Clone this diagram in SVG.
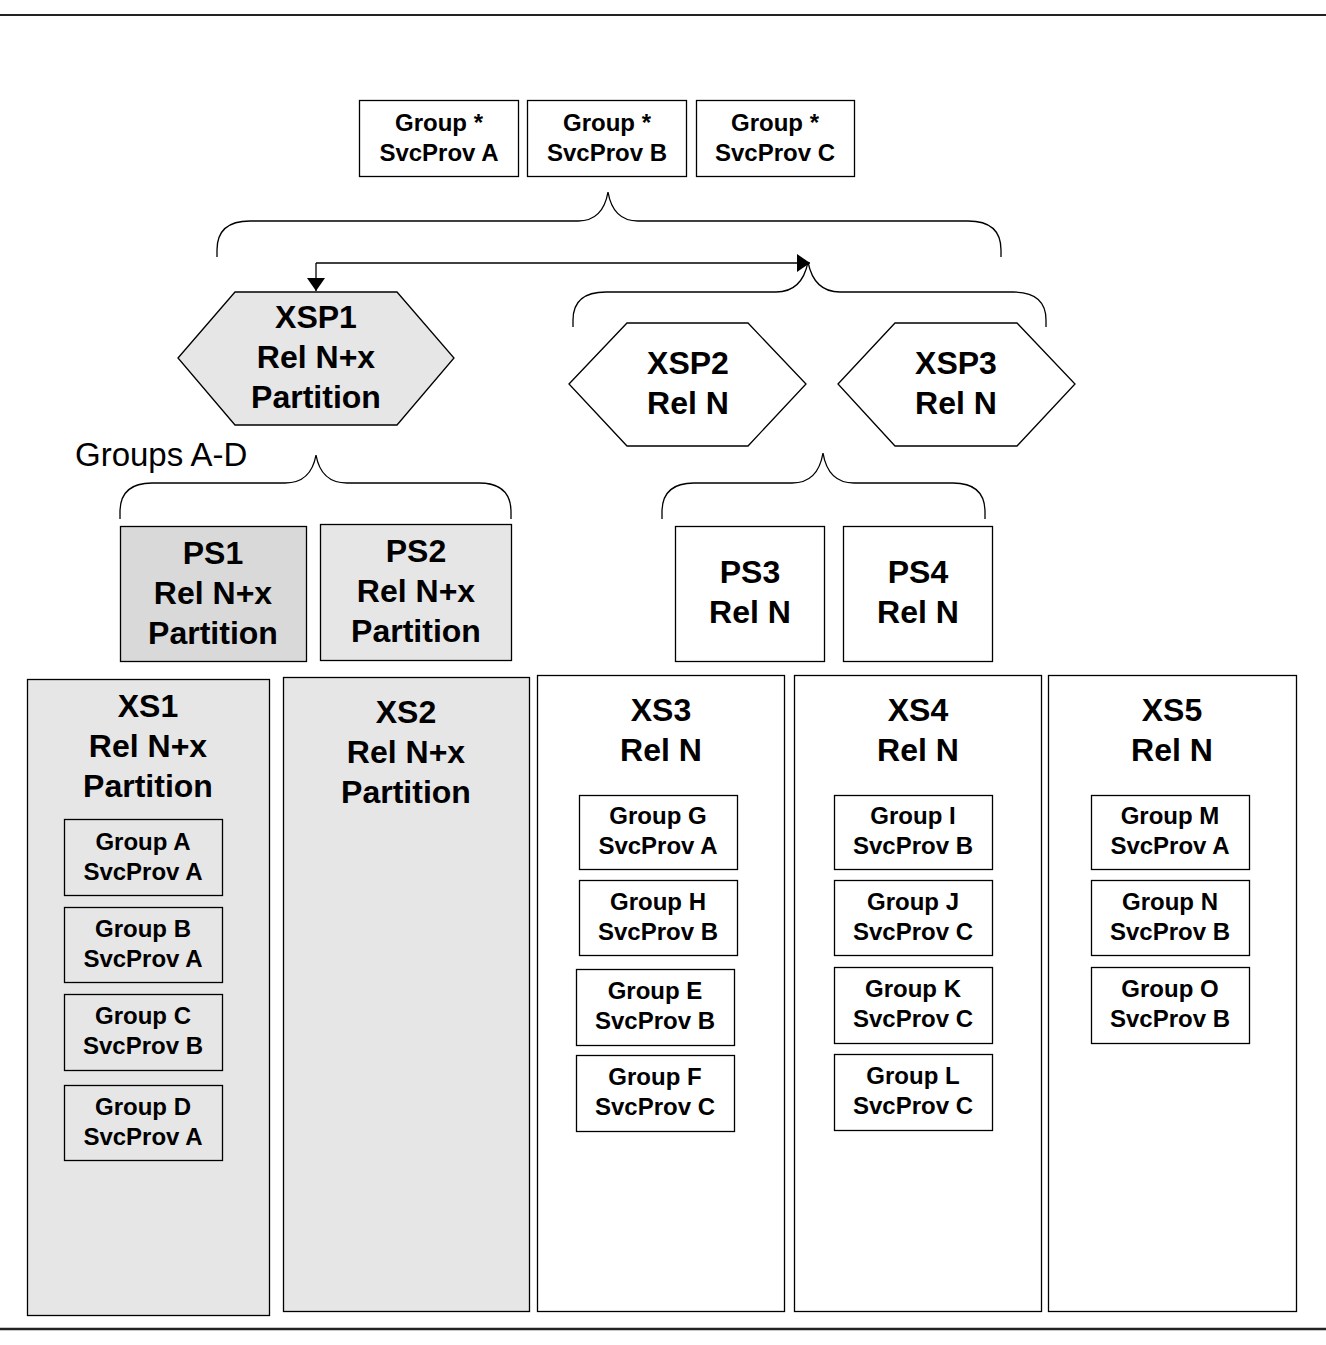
<svg xmlns="http://www.w3.org/2000/svg" width="1326" height="1345" viewBox="0 0 1326 1345">
  <style>
    .box { stroke: #000; stroke-width: 1.3; }
    .white { fill: #fff; }
    .grey { fill: #e6e6e6; }
    .dark { fill: #d9d9d9; }
    .brace { fill: none; stroke: #000; stroke-width: 1.3; }
    .t { font-family: "Liberation Sans", Arial, sans-serif; font-weight: bold; fill: #000; text-anchor: middle; }
    .s { font-size: 24px; }
    .l { font-size: 32px; }
    .lbl { font-family: "Liberation Sans", Arial, sans-serif; font-size: 33px; fill: #000; }
  </style>
  <defs>
    <marker id="tri" viewBox="0 0 13 18" refX="13" refY="9" markerWidth="13" markerHeight="18" markerUnits="userSpaceOnUse" orient="auto">
      <path d="M0,0 L13,9 L0,18 Z" fill="#000"/>
    </marker>
  </defs>

  <rect width="1326" height="1345" fill="#fff"/>

  <!-- page rules -->
  <line x1="0" y1="15" x2="1326" y2="15" stroke="#222" stroke-width="2"/>
  <line x1="0" y1="1329" x2="1326" y2="1329" stroke="#222" stroke-width="2.5"/>

  <!-- top group boxes -->
  <g id="top-a">
    <rect class="box white" x="359.500" y="100.500" width="159" height="76"/>
    <text class="t s" x="439" y="131">Group *</text>
    <text class="t s" x="439" y="161">SvcProv A</text>
  </g>
  <g id="top-b">
    <rect class="box white" x="527.500" y="100.500" width="159" height="76"/>
    <text class="t s" x="607" y="131">Group *</text>
    <text class="t s" x="607" y="161">SvcProv B</text>
  </g>
  <g id="top-c">
    <rect class="box white" x="696.500" y="100.500" width="158" height="76"/>
    <text class="t s" x="775" y="131">Group *</text>
    <text class="t s" x="775" y="161">SvcProv C</text>
  </g>

  <!-- connectors: braces and arrow -->
  <g id="connectors">
    <path class="brace" d="M217,257 V250 Q217,221 250,221 H578 Q603,221 608,192 Q613,221 638,221 H968 Q1001,221 1001,250 V257"/>
    <path class="brace" d="M573,327 V320 Q573,292 606,292 H776 Q802,292 808,262 Q814,292 840,292 H1013 Q1046,292 1046,320 V327"/>
    <path class="brace" d="M120,519 V512 Q120,483 152,483 H285 Q311,483 316,455 Q321,483 347,483 H479 Q511,483 511,512 V519"/>
    <path class="brace" d="M662,519 V512 Q662,483 694,483 H792 Q818,483 823,453 Q828,483 854,483 H953 Q985,483 985,512 V519"/>
    <line x1="316" y1="263" x2="810" y2="263" stroke="#000" stroke-width="1.3" marker-end="url(#tri)"/>
    <line x1="316" y1="263" x2="316" y2="291" stroke="#000" stroke-width="1.3" marker-end="url(#tri)"/>
  </g>

  <!-- hexagon nodes -->
  <g id="xsp1">
    <polygon class="box grey" points="178,358 235,292 397,292 454,358 397,425 235,425"/>
    <text class="t l" x="316" y="328">XSP1</text>
    <text class="t l" x="316" y="368">Rel N+x</text>
    <text class="t l" x="316" y="408">Partition</text>
  </g>
  <g id="xsp2">
    <polygon class="box white" points="569,384 627,323 748,323 806,384 748,446 627,446"/>
    <text class="t l" x="688" y="374">XSP2</text>
    <text class="t l" x="688" y="414">Rel N</text>
  </g>
  <g id="xsp3">
    <polygon class="box white" points="838,384 895,323 1017,323 1075,384 1017,446 895,446"/>
    <text class="t l" x="956" y="374">XSP3</text>
    <text class="t l" x="956" y="414">Rel N</text>
  </g>

  <text class="lbl" x="75" y="466">Groups A-D</text>

  <!-- partition servers -->
  <g id="ps1">
    <rect class="box dark" x="120.500" y="526.500" width="186" height="135"/>
    <text class="t l" x="213" y="564">PS1</text>
    <text class="t l" x="213" y="604">Rel N+x</text>
    <text class="t l" x="213" y="644">Partition</text>
  </g>
  <g id="ps2">
    <rect class="box grey" x="320.500" y="524.500" width="191" height="136"/>
    <text class="t l" x="416" y="562">PS2</text>
    <text class="t l" x="416" y="602">Rel N+x</text>
    <text class="t l" x="416" y="642">Partition</text>
  </g>
  <g id="ps3">
    <rect class="box white" x="675.500" y="526.500" width="149" height="135"/>
    <text class="t l" x="750" y="583">PS3</text>
    <text class="t l" x="750" y="623">Rel N</text>
  </g>
  <g id="ps4">
    <rect class="box white" x="843.500" y="526.500" width="149" height="135"/>
    <text class="t l" x="918" y="583">PS4</text>
    <text class="t l" x="918" y="623">Rel N</text>
  </g>

  <!-- server columns -->
  <g id="xs1">
    <rect class="box grey" x="27.500" y="679.500" width="242" height="636"/>
    <text class="t l" x="148" y="717">XS1</text>
    <text class="t l" x="148" y="757">Rel N+x</text>
    <text class="t l" x="148" y="797">Partition</text>
  </g>
  <g id="xs2">
    <rect class="box grey" x="283.500" y="677.500" width="246" height="634"/>
    <text class="t l" x="406" y="723">XS2</text>
    <text class="t l" x="406" y="763">Rel N+x</text>
    <text class="t l" x="406" y="803">Partition</text>
  </g>
  <g id="xs3">
    <rect class="box white" x="537.500" y="675.500" width="247" height="636"/>
    <text class="t l" x="661" y="721">XS3</text>
    <text class="t l" x="661" y="761">Rel N</text>
  </g>
  <g id="xs4">
    <rect class="box white" x="794.500" y="675.500" width="247" height="636"/>
    <text class="t l" x="918" y="721">XS4</text>
    <text class="t l" x="918" y="761">Rel N</text>
  </g>
  <g id="xs5">
    <rect class="box white" x="1048.500" y="675.500" width="248" height="636"/>
    <text class="t l" x="1172" y="721">XS5</text>
    <text class="t l" x="1172" y="761">Rel N</text>
  </g>

  <!-- groups in XS1 -->
  <g id="group-a">
    <rect class="box grey" x="64.500" y="819.500" width="158" height="76"/>
    <text class="t s" x="143" y="850">Group A</text>
    <text class="t s" x="143" y="880">SvcProv A</text>
  </g>
  <g id="group-b">
    <rect class="box grey" x="64.500" y="907.500" width="158" height="75"/>
    <text class="t s" x="143" y="937">Group B</text>
    <text class="t s" x="143" y="967">SvcProv A</text>
  </g>
  <g id="group-c">
    <rect class="box grey" x="64.500" y="994.500" width="158" height="76"/>
    <text class="t s" x="143" y="1024">Group C</text>
    <text class="t s" x="143" y="1054">SvcProv B</text>
  </g>
  <g id="group-d">
    <rect class="box grey" x="64.500" y="1085.500" width="158" height="75"/>
    <text class="t s" x="143" y="1115">Group D</text>
    <text class="t s" x="143" y="1145">SvcProv A</text>
  </g>

  <!-- groups in XS3 -->
  <g id="group-g">
    <rect class="box white" x="579.500" y="795.500" width="158" height="74"/>
    <text class="t s" x="658" y="824">Group G</text>
    <text class="t s" x="658" y="854">SvcProv A</text>
  </g>
  <g id="group-h">
    <rect class="box white" x="579.500" y="880.500" width="158" height="75"/>
    <text class="t s" x="658" y="910">Group H</text>
    <text class="t s" x="658" y="940">SvcProv B</text>
  </g>
  <g id="group-e">
    <rect class="box white" x="576.500" y="969.500" width="158" height="76"/>
    <text class="t s" x="655" y="999">Group E</text>
    <text class="t s" x="655" y="1029">SvcProv B</text>
  </g>
  <g id="group-f">
    <rect class="box white" x="576.500" y="1055.500" width="158" height="76"/>
    <text class="t s" x="655" y="1085">Group F</text>
    <text class="t s" x="655" y="1115">SvcProv C</text>
  </g>

  <!-- groups in XS4 -->
  <g id="group-i">
    <rect class="box white" x="834.500" y="795.500" width="158" height="74"/>
    <text class="t s" x="913" y="824">Group I</text>
    <text class="t s" x="913" y="854">SvcProv B</text>
  </g>
  <g id="group-j">
    <rect class="box white" x="834.500" y="880.500" width="158" height="75"/>
    <text class="t s" x="913" y="910">Group J</text>
    <text class="t s" x="913" y="940">SvcProv C</text>
  </g>
  <g id="group-k">
    <rect class="box white" x="834.500" y="967.500" width="158" height="76"/>
    <text class="t s" x="913" y="997">Group K</text>
    <text class="t s" x="913" y="1027">SvcProv C</text>
  </g>
  <g id="group-l">
    <rect class="box white" x="834.500" y="1054.500" width="158" height="76"/>
    <text class="t s" x="913" y="1084">Group L</text>
    <text class="t s" x="913" y="1114">SvcProv C</text>
  </g>

  <!-- groups in XS5 -->
  <g id="group-m">
    <rect class="box white" x="1091.500" y="795.500" width="158" height="74"/>
    <text class="t s" x="1170" y="824">Group M</text>
    <text class="t s" x="1170" y="854">SvcProv A</text>
  </g>
  <g id="group-n">
    <rect class="box white" x="1091.500" y="880.500" width="158" height="75"/>
    <text class="t s" x="1170" y="910">Group N</text>
    <text class="t s" x="1170" y="940">SvcProv B</text>
  </g>
  <g id="group-o">
    <rect class="box white" x="1091.500" y="967.500" width="158" height="76"/>
    <text class="t s" x="1170" y="997">Group O</text>
    <text class="t s" x="1170" y="1027">SvcProv B</text>
  </g>
</svg>
